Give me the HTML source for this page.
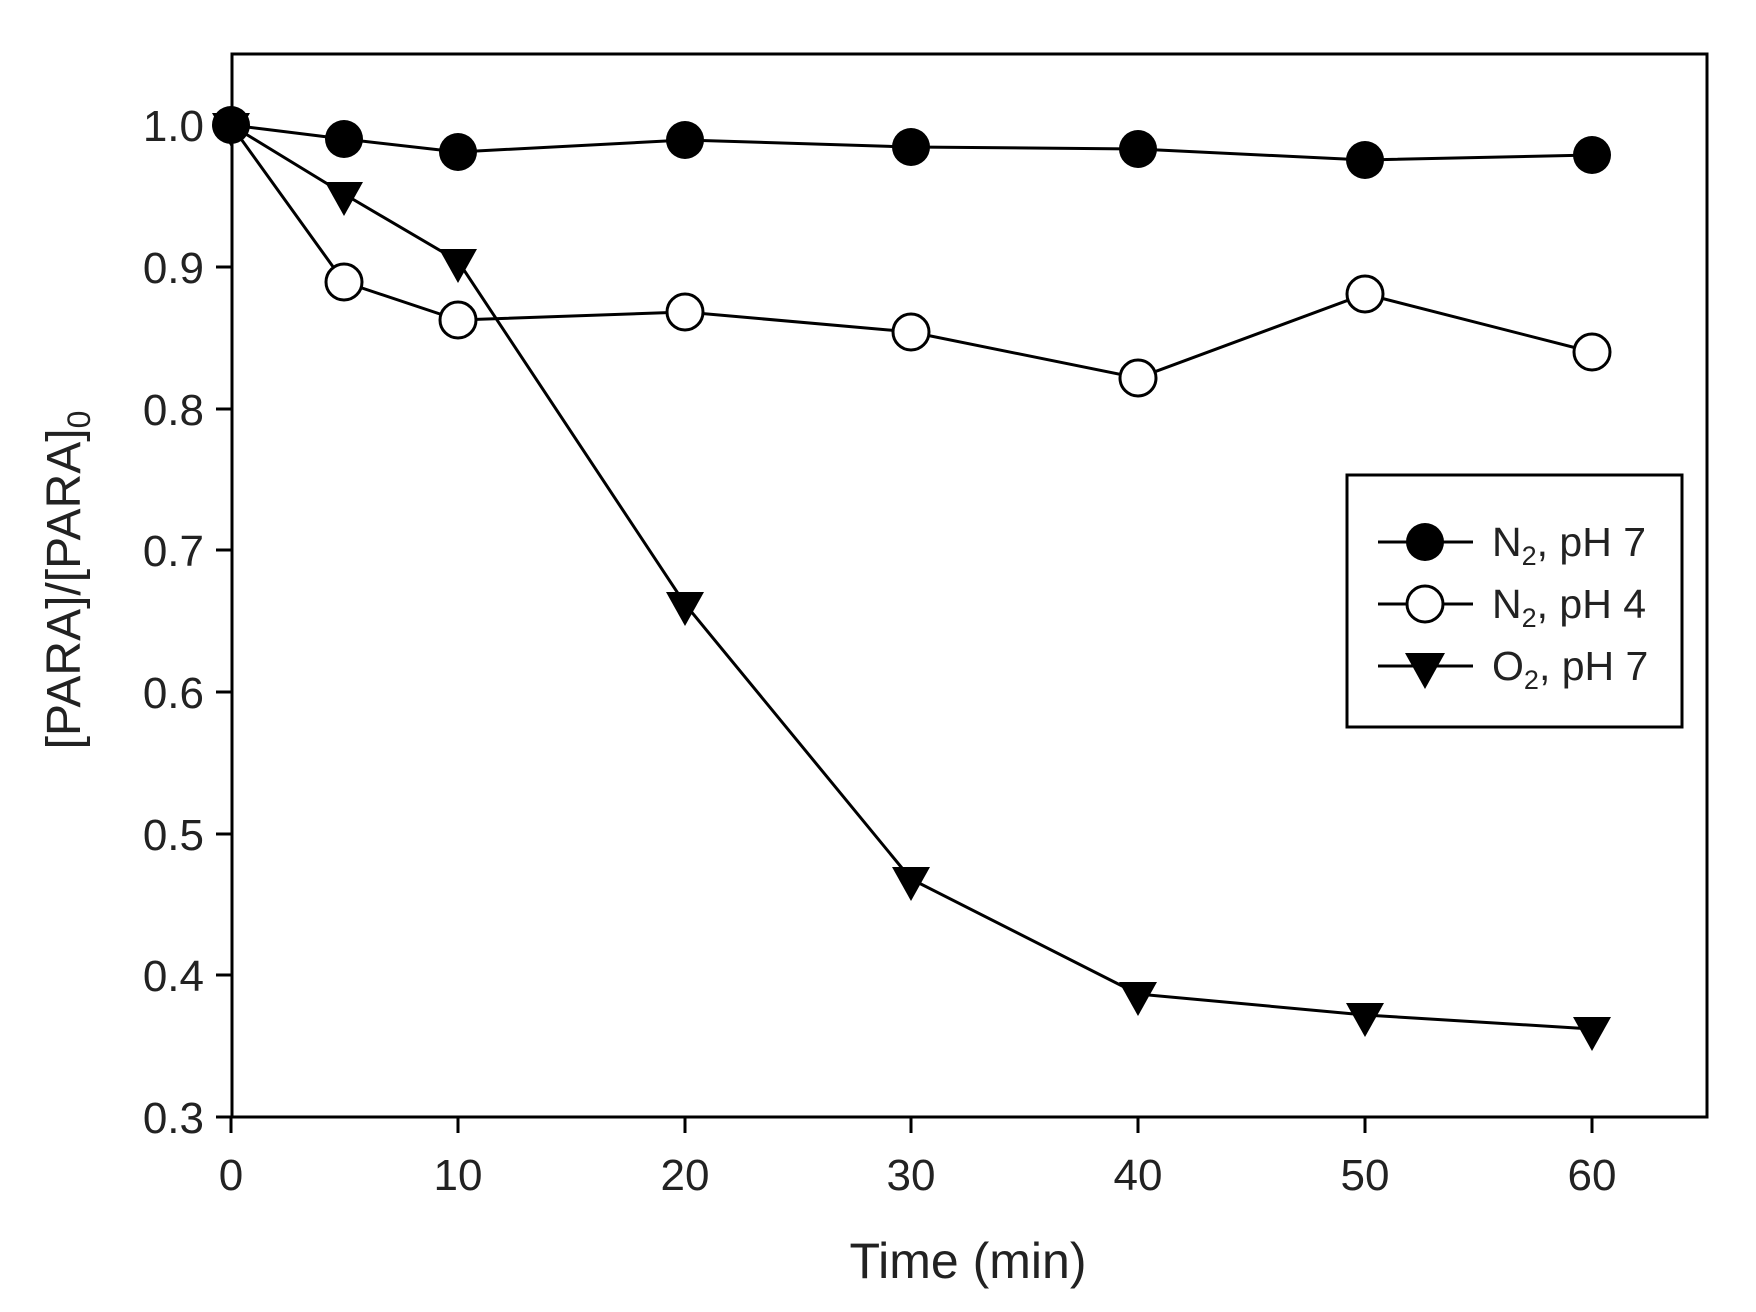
<!DOCTYPE html>
<html><head><meta charset="utf-8"><style>html,body{margin:0;padding:0;background:#fff}svg{display:block}</style></head>
<body>
<svg width="1756" height="1312" viewBox="0 0 1756 1312" xmlns="http://www.w3.org/2000/svg" font-family="Liberation Sans, Arial, sans-serif">
<rect width="1756" height="1312" fill="#fff"/>
<rect x="232" y="54" width="1475" height="1063" fill="none" stroke="#000" stroke-width="3"/>
<g stroke="#000" stroke-width="3">
<line x1="216" y1="1117" x2="232" y2="1117"/><line x1="216" y1="975" x2="232" y2="975"/><line x1="216" y1="834" x2="232" y2="834"/><line x1="216" y1="692" x2="232" y2="692"/><line x1="216" y1="550" x2="232" y2="550"/><line x1="216" y1="409" x2="232" y2="409"/><line x1="216" y1="267" x2="232" y2="267"/><line x1="216" y1="125" x2="232" y2="125"/>
<line x1="231" y1="1117" x2="231" y2="1133"/><line x1="458" y1="1117" x2="458" y2="1133"/><line x1="685" y1="1117" x2="685" y2="1133"/><line x1="911" y1="1117" x2="911" y2="1133"/><line x1="1138" y1="1117" x2="1138" y2="1133"/><line x1="1365" y1="1117" x2="1365" y2="1133"/><line x1="1592" y1="1117" x2="1592" y2="1133"/>
</g>
<g font-size="44" fill="#222" text-anchor="end">
<text x="204" y="1133">0.3</text><text x="204" y="991">0.4</text><text x="204" y="850">0.5</text><text x="204" y="708">0.6</text><text x="204" y="566">0.7</text><text x="204" y="425">0.8</text><text x="204" y="283">0.9</text><text x="204" y="141">1.0</text>
</g>
<g font-size="44" fill="#222" text-anchor="middle">
<text x="231" y="1190">0</text><text x="458" y="1190">10</text><text x="685" y="1190">20</text><text x="911" y="1190">30</text><text x="1138" y="1190">40</text><text x="1365" y="1190">50</text><text x="1592" y="1190">60</text>
</g>
<text x="968" y="1278" font-size="50" fill="#222" text-anchor="middle">Time (min)</text>
<text transform="translate(80,580) rotate(-90)" font-size="48" fill="#222" text-anchor="middle">[PARA]/[PARA]<tspan font-size="32" dy="10">0</tspan></text>
<g stroke="#000" stroke-width="3" fill="none">
<polyline points="231,125 344,139 458,152 685,140 911,147 1138,149 1365,160 1592,155"/>
<polyline points="231,125 344,282 458,320 685,312 911,332 1138,378 1365,294 1592,352"/>
<polyline points="231,125 344,194 458,261 685,604 911,879 1138,994 1365,1015 1592,1029"/>
</g>
<g fill="#000">
<circle cx="231" cy="125" r="19"/><circle cx="344" cy="139" r="19"/><circle cx="458" cy="152" r="19"/><circle cx="685" cy="140" r="19"/><circle cx="911" cy="147" r="19"/><circle cx="1138" cy="149" r="19"/><circle cx="1365" cy="160" r="19"/><circle cx="1592" cy="155" r="19"/>
</g>
<g fill="#fff" stroke="#000" stroke-width="3">
<circle cx="344" cy="282" r="18"/><circle cx="458" cy="320" r="18"/><circle cx="685" cy="312" r="18"/><circle cx="911" cy="332" r="18"/><circle cx="1138" cy="378" r="18"/><circle cx="1365" cy="294" r="18"/><circle cx="1592" cy="352" r="18"/>
</g>
<g fill="#000">
<path d="M212,113 h38 l-19,34 z"/>
<path d="M325,182 h38 l-19,34 z"/><path d="M439,249 h38 l-19,34 z"/><path d="M666,592 h38 l-19,34 z"/><path d="M892,867 h38 l-19,34 z"/><path d="M1119,982 h38 l-19,34 z"/><path d="M1346,1003 h38 l-19,34 z"/><path d="M1573,1017 h38 l-19,34 z"/>
</g>
<rect x="1347" y="475" width="335" height="252" fill="#fff" stroke="#000" stroke-width="3"/>
<g stroke="#000" stroke-width="3"><line x1="1378" y1="542" x2="1473" y2="542"/><line x1="1378" y1="604" x2="1473" y2="604"/><line x1="1378" y1="666" x2="1473" y2="666"/></g>
<circle cx="1425" cy="542" r="19" fill="#000"/>
<circle cx="1425" cy="604" r="18" fill="#fff" stroke="#000" stroke-width="3"/>
<path d="M1405,653 h40 l-20,36 z" fill="#000"/>
<g font-size="41" fill="#222">
<text x="1492" y="556">N<tspan font-size="27" dy="9">2</tspan><tspan dy="-9">, pH 7</tspan></text>
<text x="1492" y="618">N<tspan font-size="27" dy="9">2</tspan><tspan dy="-9">, pH 4</tspan></text>
<text x="1492" y="680">O<tspan font-size="27" dy="9">2</tspan><tspan dy="-9">, pH 7</tspan></text>
</g>
</svg>
</body></html>
